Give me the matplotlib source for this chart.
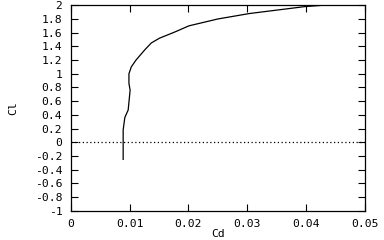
import numpy as np
import matplotlib
matplotlib.use("Agg")
import matplotlib.pyplot as plt

# polar
cd = [0.00892, 0.00892, 0.0092, 0.0094, 0.00977, 0.0101, 0.0099, 0.0099,
      0.0103, 0.0111, 0.0126, 0.0137, 0.0151, 0.0177, 0.0201, 0.0250,
      0.0304, 0.0360, 0.0397, 0.0428, 0.0500]
cl = [-0.25, 0.18, 0.36, 0.40, 0.47, 0.76, 0.86, 1.00,
      1.10, 1.20, 1.35, 1.45, 1.52, 1.61, 1.70, 1.80,
      1.88, 1.94, 1.98, 2.00, 2.00]

xticks = np.arange(0, 0.051, 0.01)
yticks = np.arange(-1, 2.01, 0.2)
xlabels = ["0", "0.01", "0.02", "0.03", "0.04", "0.05"]
ylabels = ["%g" % (round(v, 1) + 0.0) for v in yticks]

fig = plt.figure(figsize=(3.84, 2.4), dpi=100)
ax = fig.add_axes([0.184, 0.122, 0.7665, 0.856])

ax.plot(cd, cl, color="black", lw=0.9)
ax.axhline(0, color="black", lw=0.9, ls=(0, (1, 2)))

ax.set_xlim(0, 0.05)
ax.set_ylim(-1, 2)
ax.set_xticks(xticks)
ax.set_xticklabels(xlabels)
ax.set_yticks(yticks)
ax.set_yticklabels(ylabels)

fnt = dict(family="DejaVu Sans Mono", size=8.2)
for lab in ax.get_xticklabels() + ax.get_yticklabels():
    lab.set_fontfamily(fnt["family"])
    lab.set_fontsize(fnt["size"])
ax.tick_params(direction="in", length=5, width=0.8, top=True, right=True,
               pad=6)
for s in ax.spines.values():
    s.set_linewidth(0.9)

ax.set_xlabel("Cd", fontdict=fnt, labelpad=0)
ax.set_ylabel("Cl", fontdict=fnt, labelpad=12)

fig.savefig("out.png", dpi=100)
